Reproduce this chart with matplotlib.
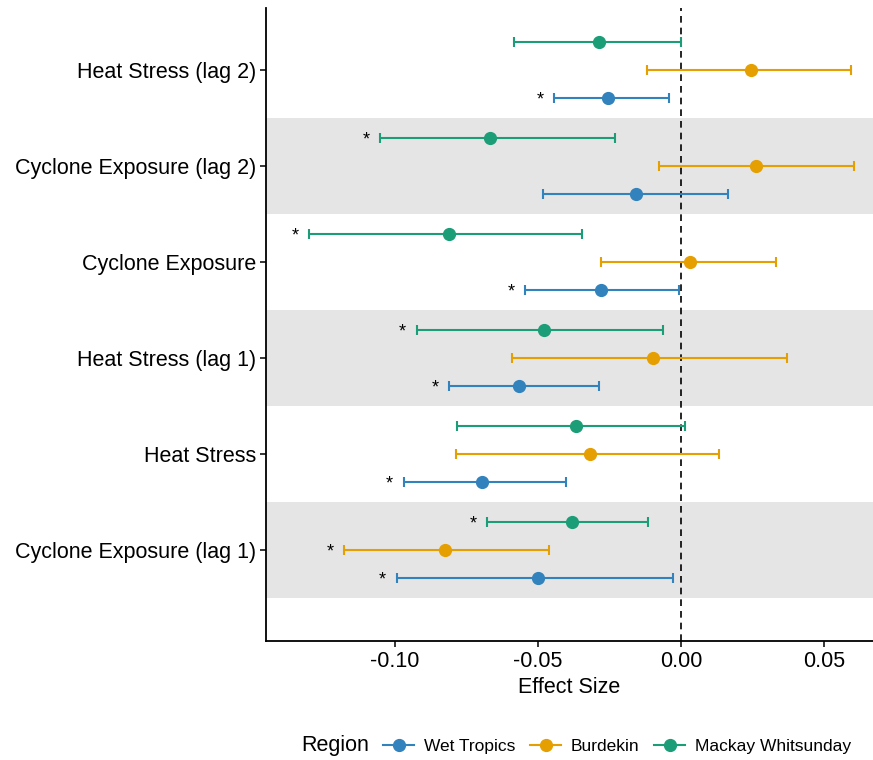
import matplotlib
matplotlib.use("Agg")
import matplotlib.pyplot as plt
from matplotlib.lines import Line2D
import numpy as np

plt.rcParams['font.family'] = ['Liberation Sans', 'DejaVu Sans']

# Categories bottom -> top
categories = ["Cyclone Exposure (lag 1)", "Heat Stress", "Heat Stress (lag 1)",
              "Cyclone Exposure", "Cyclone Exposure (lag 2)", "Heat Stress (lag 2)"]
regions = ["Wet Tropics", "Burdekin", "Mackay Whitsunday"]
colors = {"Wet Tropics": "#3182BD", "Burdekin": "#E69F00", "Mackay Whitsunday": "#1B9E77"}

est_wet = [-0.0500, -0.0696, -0.0566, -0.0280, -0.0157, -0.0255]
lo_wet = [-0.0993, -0.0969, -0.0811, -0.0545, -0.0483, -0.0444]
hi_wet = [-0.0028, -0.0402, -0.0287, -0.0007, 0.0164, -0.0042]
sig_wet = [True, True, True, True, False, True]

est_bur = [-0.0825, -0.0318, -0.0098, 0.0031, 0.0262, 0.0245]
lo_bur = [-0.1178, -0.0787, -0.0591, -0.0280, -0.0077, -0.0119]
hi_bur = [-0.0462, 0.0133, 0.0371, 0.0332, 0.0605, 0.0594]
sig_bur = [True, False, False, False, False, False]

est_mac = [-0.0381, -0.0367, -0.0479, -0.0811, -0.0668, -0.0287]
lo_mac = [-0.0678, -0.0783, -0.0923, -0.1300, -0.1052, -0.0584]
hi_mac = [-0.0115, 0.0014, -0.0063, -0.0346, -0.0231, 0.0000]
sig_mac = [True, False, True, True, True, False]

data = {
    "Wet Tropics": (est_wet, lo_wet, hi_wet, sig_wet),
    "Burdekin": (est_bur, lo_bur, hi_bur, sig_bur),
    "Mackay Whitsunday": (est_mac, lo_mac, hi_mac, sig_mac),
}
offsets = {"Wet Tropics": -0.29, "Burdekin": 0.0, "Mackay Whitsunday": 0.29}
shaded_rows = ["Cyclone Exposure (lag 1)", "Heat Stress (lag 1)", "Cyclone Exposure (lag 2)"]

fig = plt.figure(figsize=(8.73, 7.6), dpi=100)
ax = fig.add_axes([266/873, (760-641)/760, (873-266)/873, (641-8)/760])

ypos = np.arange(1, len(categories) + 1)
for c, y in zip(categories, ypos):
    if c in shaded_rows:
        ax.axhspan(y - 0.5, y + 0.5, color="#E5E5E5", zorder=0, lw=0)

ax.axvline(0, color="black", ls=(0, (4, 3)), lw=1.2, zorder=1)

for r in regions:
    est, lo, hi, sig = data[r]
    est = np.array(est); lo = np.array(lo); hi = np.array(hi)
    yy = ypos + offsets[r]
    ax.errorbar(est, yy, xerr=[est - lo, hi - est], fmt="o", color=colors[r],
                ecolor=colors[r], elinewidth=1.5, capsize=3.6, capthick=1.5,
                markersize=8.5, zorder=3)
    for xi, yi, s in zip(lo, yy, sig):
        if s:
            ax.text(xi - 0.005, yi - 0.02, "*", ha="center", va="center",
                    fontsize=13, color="black", zorder=4)

ax.set_xlim(-0.1451, 0.0671)
ax.set_ylim(0.052, 6.646)
ax.set_yticks(ypos)
ax.set_yticklabels(categories, fontsize=15.5, color="black")
ax.set_xticks([-0.10, -0.05, 0.00, 0.05])
ax.set_xticklabels(["-0.10", "-0.05", "0.00", "0.05"], fontsize=15.5, color="black")
ax.set_xlabel("Effect Size", fontsize=15.5, labelpad=4)
for s in ["top", "right"]:
    ax.spines[s].set_visible(False)
for s in ["left", "bottom"]:
    ax.spines[s].set_linewidth(1.3)
ax.tick_params(axis="both", length=4, width=1.1, direction="out", pad=3)

handles = [Line2D([0], [0], color=colors[r], marker="o", lw=1.5, markersize=8.5) for r in regions]
fig.text(301/873, 1 - 746/760, "Region", fontsize=15.5, ha="left", va="center")
fig.legend(handles, regions, loc="center left", bbox_to_anchor=(383/873, 1 - 746/760),
           ncol=3, frameon=False, fontsize=12.5, handlelength=1.8, handletextpad=0.55,
           columnspacing=0.85, borderaxespad=0, borderpad=0)

fig.savefig("out.png", dpi=100)
